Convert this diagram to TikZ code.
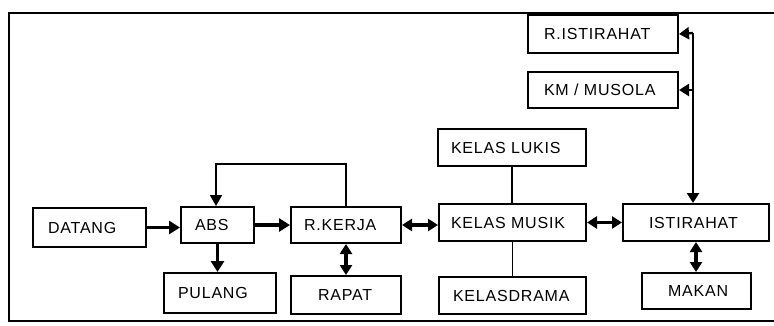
\documentclass[tikz,border=0pt]{standalone}
\usepackage{fontspec}
\setmainfont{Liberation Sans}[LetterSpace=5]
\usetikzlibrary{arrows.meta}
\begin{document}
\begin{tikzpicture}[x=1pt,y=-1pt,
  bx/.style={draw, line width=2pt, inner sep=0pt, anchor=north west, align=left,
             font=\fontsize{16}{18}\selectfont},
  arr/.style={line width=3.4pt, -{Triangle[length=11pt,width=13pt]}},
  darr/.style={line width=3.4pt, {Triangle[length=10pt,width=12pt]}-{Triangle[length=10pt,width=12pt]}},
  plain/.style={line width=1.4pt},
  farr/.style={line width=1.8pt, -{Triangle[length=11pt,width=12pt]}},
  tarr/.style={line width=2.4pt, -{Triangle[length=10pt,width=12pt]}}]
\useasboundingbox (0,0) rectangle (774,325);
\draw[line width=2.6pt] (780,13) -- (9,13) -- (9,321) -- (780,321);

\node[bx, text width=113pt, minimum height=39pt] (datang) at (32,207) {\hspace*{15pt}DATANG};
\node[bx, text width=73pt, minimum height=36pt] (abs) at (180,206) {\hspace*{14pt}ABS};
\node[bx, text width=110pt, minimum height=36pt] (rkerja) at (290,206) {\hspace*{13pt}R.KERJA};
\node[bx, text width=112pt, minimum height=40pt] (pulang) at (163,272) {\hspace*{14pt}PULANG};
\node[bx, text width=110pt, minimum height=38pt] (rapat) at (290,275) {\hspace*{27pt}RAPAT};
\node[bx, text width=147pt, minimum height=37pt] (kmusik) at (438,203) {\hspace*{12pt}KELAS MUSIK};
\node[bx, text width=147pt, minimum height=37pt] (kdrama) at (438,276) {\hspace*{14pt}KELASDRAMA};
\node[bx, text width=148pt, minimum height=37pt] (klukis) at (437,128) {\hspace*{13pt}KELAS LUKIS};
\node[bx, text width=146pt, minimum height=37pt] (ist) at (622,203) {\hspace*{26pt}ISTIRAHAT};
\node[bx, text width=109pt, minimum height=36pt] (makan) at (641,272) {\hspace*{26pt}MAKAN};
\node[bx, text width=150pt, minimum height=38pt] (rist) at (527,14) {\hspace*{16pt}R.ISTIRAHAT};
\node[bx, text width=150pt, minimum height=36pt] (km) at (527,71) {\hspace*{16pt}KM / MUSOLA};

\draw[arr] (datang.east) -- (datang.east -| abs.west);
\draw[arr] (abs.east) -- (abs.east -| rkerja.west);
\draw[arr] (abs.south) -- (abs.south |- pulang.north);
\draw[darr] (rkerja.south) -- (rkerja.south |- rapat.north);
\draw[darr] (rkerja.east) -- (rkerja.east -| kmusik.west);
\draw[darr] (kmusik.east) -- (kmusik.east -| ist.west);
\draw[darr] (ist.south) -- (ist.south |- makan.north);
\draw[plain] (klukis.south) -- (klukis.south |- kmusik.north);
\draw[plain] (kmusik.south) -- (kmusik.south |- kdrama.north);
\draw[farr] (rkerja.north) -- ++(0,-42) -| ([xshift=-1.5pt]abs.north);

\coordinate (tr) at (693,33);
\draw[tarr] (tr) -- (tr |- ist.north);
\draw[tarr] (tr) -- (rist.east);
\draw[tarr] (km.east -| tr) -- (km.east);
\end{tikzpicture}
\end{document}
